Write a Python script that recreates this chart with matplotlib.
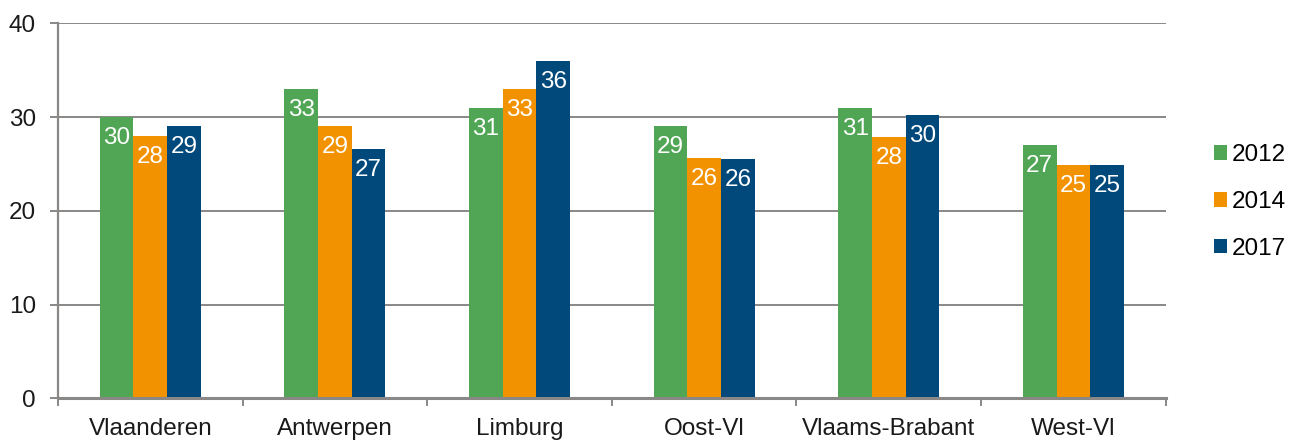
import matplotlib.pyplot as plt
import numpy as np

plt.rcParams['font.family'] = ['Liberation Sans', 'DejaVu Sans']

# data
regions = ['Vlaanderen', 'Antwerpen', 'Limburg', 'Oost-Vl', 'Vlaams-Brabant', 'West-Vl']
years = ['2012', '2014', '2017']
v2012 = [30.0, 33.0, 31.0, 29.0, 31.0, 27.0]
v2014 = [28.0, 29.0, 33.0, 25.6, 27.9, 24.9]
v2017 = [29.0, 26.6, 36.0, 25.5, 30.2, 24.9]

colors = ['#50A654', '#F39200', '#00497A']
grid_col = '#8A8886'
fs = 17.5

fig = plt.figure(figsize=(13.01, 4.41), dpi=100)
ax = fig.add_axes([58 / 1301, 42.7 / 441, (1165.7 - 58) / 1301, 375 / 441])

x = np.arange(len(regions))
w = 0.1825
for i, (vals, yr) in enumerate(zip([v2012, v2014, v2017], years)):
    bars = ax.bar(x + (i - 1) * w, vals, width=w, color=colors[i], label=yr, zorder=3)
    for b, v in zip(bars, vals):
        ax.annotate('%.0f' % v, (b.get_x() + b.get_width() / 2, v),
                    xytext=(0, -15), textcoords='offset points',
                    ha='center', va='center', color='white', fontsize=fs, zorder=4)

ax.set_xlim(-0.5, len(regions) - 0.5)
ax.set_ylim(0, 40)
ax.set_yticks([0, 10, 20, 30, 40])
ax.yaxis.grid(True, color=grid_col, linewidth=1.4, zorder=0)

ax.set_xticks(x)
ax.set_xticklabels(regions, fontsize=fs, color='#1a1a1a')
ax.set_xticks(np.arange(-0.5, len(regions)), minor=True)
ax.tick_params(axis='x', which='major', length=0, pad=14)
ax.tick_params(axis='x', which='minor', length=6, width=1.4, color=grid_col, direction='out')
ax.tick_params(axis='y', length=6, width=1.4, color=grid_col, pad=10,
               labelsize=fs, labelcolor='#1a1a1a')

for s in ['top', 'right']:
    ax.spines[s].set_visible(False)
ax.spines['left'].set_color(grid_col)
ax.spines['left'].set_linewidth(1.6)
ax.spines['bottom'].set_color(grid_col)
ax.spines['bottom'].set_linewidth(2.2)
ax.spines['bottom'].set_zorder(5)

fig.legend(loc='center left', bbox_to_anchor=(1214 / 1301, (441 - 202) / 441),
           frameon=False, fontsize=fs, handlelength=0.54, handleheight=0.54,
           handletextpad=0.2, labelspacing=1.02, borderpad=0, borderaxespad=0)

fig.savefig('out.png', dpi=100)
